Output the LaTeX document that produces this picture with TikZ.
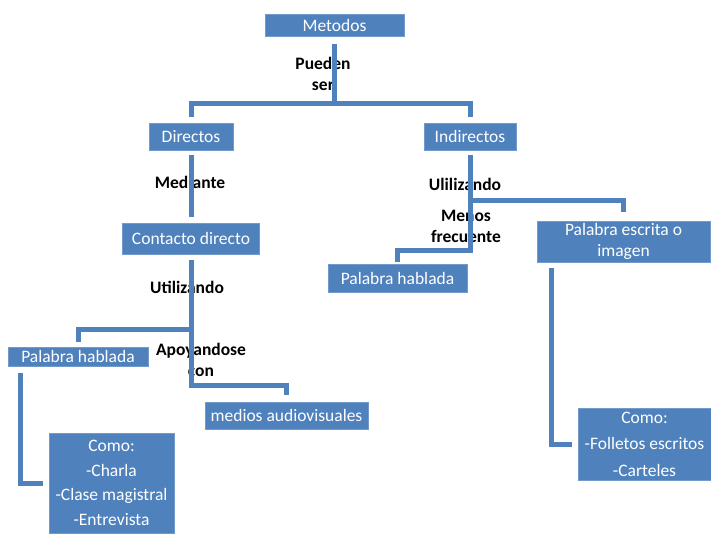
\documentclass[tikz,border=0pt]{standalone}
\usepackage{fontspec}
\setmainfont{Carlito}
\definecolor{boxblue}{HTML}{4F81BD}

\tikzset{
    caja/.style={fill=boxblue, draw=boxblue!80!white, line width=0.6pt,
        text=white, inner sep=0pt, align=center,
        font=\fontsize{17.5}{21}\selectfont},
    enlace/.style={draw=boxblue, line width=5pt},
    etiqueta/.style={font=\fontsize{17.5}{21}\selectfont\bfseries,
        align=center, inner sep=0pt},
}

\begin{document}
\begin{tikzpicture}[x=1pt, y=-1pt]
    \useasboundingbox (0,0) rectangle (711,533);

    % etiquetas
    \node[etiqueta] (pueden) at (323,73.5) {Pueden\\ser};
    \node[etiqueta] (mediante) at (190,182) {Mediante};
    \node[etiqueta] (utilizando) at (187,287) {Utilizando};
    \node[etiqueta] (apoyandose) at (201,360) {Apoyandose\\con};
    \node[etiqueta] (ulilizando) at (465,184) {Ulilizando};
    \node[etiqueta] (menos) at (466,226) {Menos\\frecuente};

    % cajas
    \node[caja, minimum width=139pt, minimum height=22pt] (metodos) at (334.5,25.5) {Metodos};
    \node[caja, minimum width=84pt, minimum height=27pt] (directos) at (191,136.5) {Directos};
    \node[caja, minimum width=92pt, minimum height=27pt] (indirectos) at (470,136.5) {Indirectos};
    \node[caja, minimum width=137pt, minimum height=31pt] (contacto) at (191,238.5) {Contacto directo};
    \node[caja, minimum width=140pt, minimum height=19pt] (phd) at (78,356.5) {Palabra hablada};
    \node[caja, minimum width=163pt, minimum height=27pt] (medios) at (286.5,415.5) {medios audiovisuales};
    \node[caja, minimum width=125pt, minimum height=100pt,
        font=\fontsize{17.5}{24.5}\selectfont] (comoA) at (111.5,483)
        {Como:\\-Charla\\-Clase magistral\\-Entrevista};
    \node[caja, minimum width=139pt, minimum height=28pt] (phi) at (397.5,278) {Palabra hablada};
    \node[caja, minimum width=173pt, minimum height=41pt] (escrita) at (623.5,241.5) {Palabra escrita o\\imagen};
    \node[caja, minimum width=133pt, minimum height=72pt,
        font=\fontsize{17.5}{26.5}\selectfont] (comoB) at (644.5,444)
        {Como:\\-Folletos escritos\\-Carteles};

    % puntos de las barras
    \coordinate (barm) at (336,103);
    \coordinate (barc1) at (191,329);
    \coordinate (barc2) at (191,385);
    \coordinate (bari1) at (469,200);
    \coordinate (bari2) at (469,250);

    % enlaces
    \draw[enlace, shorten <=7pt, shorten >=6pt] (metodos.south) -- (metodos.south |- barm) -| (directos.north);
    \draw[enlace, shorten <=7pt, shorten >=6pt] (metodos.south) -- (metodos.south |- barm) -| (indirectos.north);
    \draw[enlace, shorten <=5pt, shorten >=6pt] (directos.south) -- (contacto.north);
    \draw[enlace, shorten <=6pt, shorten >=5pt] (contacto.south) -- (contacto.south |- barc1) -| (phd.north);
    \draw[enlace, shorten <=6pt, shorten >=7pt] (contacto.south) -- (contacto.south |- barc2) -| (medios.north);
    \draw[enlace, shorten <=7pt, shorten >=6pt] ([xshift=13pt]phd.south west) |- (comoA.west);
    \draw[enlace, shorten <=5pt, shorten >=9pt] (indirectos.south) -- (indirectos.south |- bari1) -| (escrita.north);
    \draw[enlace, shorten <=5pt, shorten >=2pt] (indirectos.south) -- (indirectos.south |- bari2) -| (phi.north);
    \draw[enlace, shorten <=6pt, shorten >=6pt] ([xshift=15pt]escrita.south west) |- (comoB.west);
\end{tikzpicture}
\end{document}
